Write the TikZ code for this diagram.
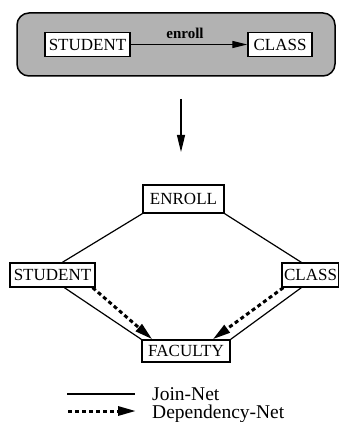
\documentclass[tikz,border=0pt]{standalone}
\usepackage{fontspec}
\setmainfont{Liberation Serif}
\newfontfamily\diagfont{Liberation Serif}
\usetikzlibrary{arrows.meta}
\begin{document}
\begin{tikzpicture}[x=1pt,y=-1pt,
  ent/.style={draw, line width=1.3pt, fill=white, inner sep=0pt,
              font=\diagfont\fontsize{17}{19}\selectfont, minimum height=24pt},
  joinline/.style={line width=1.2pt},
  depline/.style={line width=3pt, dash pattern=on 4pt off 3pt,
              -{Triangle[length=18pt,width=9pt]}},
  plainarrow/.style={line width=1.2pt, -{Triangle[length=15pt,width=7pt]}},
  legendtext/.style={anchor=base west, inner sep=0pt, font=\diagfont\fontsize{19.5}{22}\selectfont},
]
\useasboundingbox (0,0) rectangle (339,422);

% ER schema: student enrolls in class
\node[draw, line width=1.5pt, rounded corners=12pt, fill=black!30,
      minimum width=318pt, minimum height=63pt] (frame) at (176,44.5) {};
\node[ent, minimum width=85pt] (s1) at (87.5,44.5) {STUDENT};
\node[ent, minimum width=64pt] (c1) at (280,44.5) {CLASS};
\draw[plainarrow] (s1) -- (c1);
\node[inner sep=0pt, font=\diagfont\bfseries\fontsize{15}{17}\selectfont] (enr) at (185,33) {enroll};

% transformation arrow
\coordinate (v1) at (181,99);
\coordinate (v2) at (181,152);
\draw[line width=1.2pt, -{Triangle[length=17pt,width=8pt]}] (v1) -- (v2);

% derived lattice of relations
\node[ent, minimum width=81pt, minimum height=28pt] (en) at (183.5,199) {ENROLL};
\node[ent, minimum width=85pt] (s2) at (52.5,275) {STUDENT};
\node[ent, minimum width=57pt] (c2) at (310.5,275) {CLASS};
\node[ent, minimum width=88pt, minimum height=22pt] (fa) at (186,351) {FACULTY};

% join-net edges
\draw[joinline] (en.south west) -- ([xshift=53pt]s2.north west);
\draw[joinline] (en.south east) -- ([xshift=20pt]c2.north west);
\draw[joinline] ([xshift=55pt]s2.south west) -- (fa.north west);
\draw[joinline] ([xshift=20pt]c2.south west) -- (fa.north east);

% dependency-net edges
\draw[depline] ([xshift=-3pt]s2.south east) -- ([xshift=11pt]fa.north west);
\draw[depline] ([xshift=2pt]c2.south west) -- ([xshift=-18pt]fa.north east);

% legend
\coordinate (j1) at (67,394);
\coordinate (j2) at (135,394);
\draw[joinline] (j1) -- (j2);
\node[legendtext] (jl) at (152,400) {Join-Net};
\coordinate (d1) at (68,411);
\coordinate (d2) at (136,411);
\draw[depline] (d1) -- (d2);
\node[legendtext] (dl) at (152,418) {Dependency-Net};
\end{tikzpicture}
\end{document}
